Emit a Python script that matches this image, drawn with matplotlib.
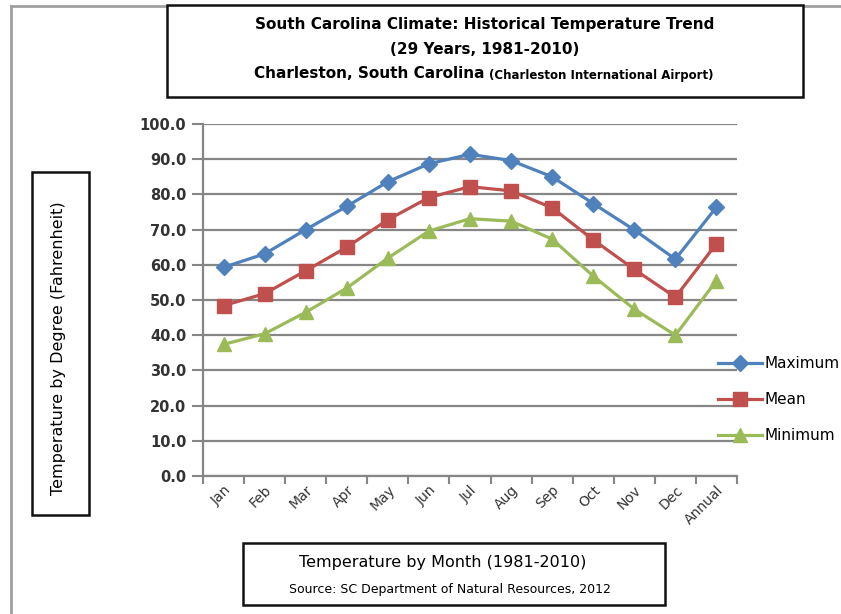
import numpy as np
import matplotlib.pyplot as plt
from matplotlib.patches import Rectangle
from matplotlib.lines import Line2D

plt.rcParams['font.family'] = ['DejaVu Sans']

months = ['Jan', 'Feb', 'Mar', 'Apr', 'May', 'Jun', 'Jul', 'Aug', 'Sep', 'Oct', 'Nov', 'Dec', 'Annual']
t_max = [59.3, 63.1, 70.0, 76.6, 83.6, 88.7, 91.4, 89.6, 85.0, 77.4, 69.9, 61.6, 76.4]
t_mean = [48.4, 51.8, 58.3, 65.0, 72.8, 79.1, 82.2, 81.0, 76.2, 67.1, 58.7, 50.8, 66.0]
t_min = [37.4, 40.4, 46.5, 53.4, 61.9, 69.6, 73.1, 72.4, 67.3, 56.8, 47.4, 40.0, 55.5]
y_ticks = np.arange(0, 101, 10)

W, H = 841, 614
fig = plt.figure(figsize=(W / 100, H / 100), dpi=100)

def fx(px):
    return px / W

def fy(py):
    return 1 - py / H

ax = fig.add_axes([fx(203), fy(476), fx(737) - fx(203), fy(124) - fy(476)])

x = np.arange(len(months))
blue, red, green = '#4F81BD', '#C0504D', '#9BBB59'
ax.plot(x, t_max, color=blue, lw=2.3, marker='D', ms=8, label='Maximum', zorder=3)
ax.plot(x, t_mean, color=red, lw=2.3, marker='s', ms=10, label='Mean', zorder=3)
ax.plot(x, t_min, color=green, lw=2.3, marker='^', ms=10.5, label='Minimum', zorder=3)

ax.set_xlim(-0.5, len(months) - 0.5)
ax.set_ylim(0, 100)
ax.set_yticks(y_ticks)
ax.set_yticklabels(['%.1f' % v for v in y_ticks], fontsize=10.5, fontweight='bold', color='#333333')
ax.set_xticks(x)
ax.set_xticklabels(months, rotation=45, ha='right', rotation_mode='anchor',
                   fontsize=10, color='#333333')
ax.set_xticks(np.arange(-0.5, len(months), 1), minor=True)
ax.tick_params(axis='x', which='major', length=0, pad=5)
ax.tick_params(axis='x', which='minor', length=6, width=1.5, color='#868686', direction='out')
ax.tick_params(axis='y', length=8, width=1.5, color='#868686', direction='out', pad=4)

ax.grid(axis='y', color='#868686', lw=1.6, zorder=1)
ax.set_axisbelow(True)
for s in ['top', 'right']:
    ax.spines[s].set_visible(False)
for s in ['left', 'bottom']:
    ax.spines[s].set_color('#868686')
    ax.spines[s].set_linewidth(1.6)

# legend sitting over the right end of the plot area
handles = [Line2D([], [], color=blue, lw=2.3, marker='D', ms=8),
           Line2D([], [], color=red, lw=2.3, marker='s', ms=10),
           Line2D([], [], color=green, lw=2.3, marker='^', ms=10.5)]
leg = fig.legend(handles, ['Maximum', 'Mean', 'Minimum'], loc='upper left',
                 bbox_to_anchor=(fx(715), fy(353)), frameon=False, fontsize=11,
                 handlelength=2.85, handletextpad=0.2, labelspacing=1.38,
                 borderpad=0.2, borderaxespad=0)

# outer chart border (grey)
fig.add_artist(Line2D([fx(11), fx(W)], [fy(6), fy(6)], color='#a0a0a0', lw=2))
fig.add_artist(Line2D([fx(11), fx(11)], [fy(6), fy(H)], color='#a0a0a0', lw=2))

def box(x0, y0, x1, y1):
    fig.add_artist(Rectangle((fx(x0), fy(y1)), fx(x1) - fx(x0), fy(y0) - fy(y1),
                             transform=fig.transFigure, fill=True, facecolor='white',
                             edgecolor='#111111', lw=1.8, zorder=5))

# title box
box(167, 5, 803, 97)
fig.text(fx(485), fy(25), 'South Carolina Climate: Historical Temperature Trend',
         ha='center', va='center', fontsize=11, fontweight='bold', zorder=6)
fig.text(fx(485), fy(49), '(29 Years, 1981-2010)',
         ha='center', va='center', fontsize=11, fontweight='bold', zorder=6)
fig.text(fx(485), fy(74), 'Charleston, South Carolina',
         ha='right', va='center', fontsize=11, fontweight='bold', zorder=6)
fig.text(fx(489), fy(75), '(Charleston International Airport)',
         ha='left', va='center', fontsize=8.5, fontweight='bold', zorder=6)

# y label box
box(32, 172, 89, 515)
fig.text(fx(58), fy(348), 'Temperature by Degree (Fahrenheit)', rotation=90,
         ha='center', va='center', fontsize=11.5, zorder=6)

# x label box
box(243, 543, 665, 605)
fig.text(fx(443), fy(563), 'Temperature by Month (1981-2010)',
         ha='center', va='center', fontsize=11.5, zorder=6)
fig.text(fx(450), fy(589), 'Source: SC Department of Natural Resources, 2012',
         ha='center', va='center', fontsize=9, zorder=6)

fig.savefig('out.png', dpi=100)
